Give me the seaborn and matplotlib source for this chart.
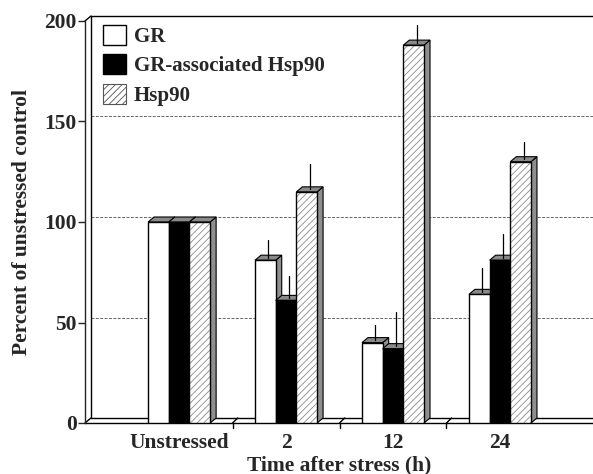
import numpy as np
import pandas as pd
import seaborn as sns
import matplotlib
matplotlib.use('Agg')
import matplotlib.pyplot as plt
from matplotlib.patches import Polygon, Rectangle, Patch

# values
times = ['Unstressed', '2', '12', '24']
series = ['GR', 'GR-associated Hsp90', 'Hsp90']
gr = [100, 81, 40, 64]
gr_hsp90 = [100, 61, 37, 81]
hsp90 = [100, 115, 188, 130]
gr_err = [0, 10, 9, 13]
gr_hsp90_err = [0, 12, 18, 13]
hsp90_err = [0, 14, 10, 10]

df = pd.DataFrame({
    'time': times * 3,
    'protein': np.repeat(series, len(times)),
    'value': gr + gr_hsp90 + hsp90,
})
errs = [gr_err, gr_hsp90_err, hsp90_err]
vals = [gr, gr_hsp90, hsp90]

sns.set_style('white')
plt.rcParams['font.family'] = ['Liberation Serif', 'DejaVu Serif']
plt.rcParams['font.weight'] = 'bold'
plt.rcParams['hatch.linewidth'] = 0.6

fig = plt.figure(figsize=(5.93, 4.74), dpi=100)
W, H = 593, 474
ax = fig.add_axes([85 / W, (H - 423) / H, 508 / W, 402 / H])

pal = {'GR': 'white', 'GR-associated Hsp90': 'black', 'Hsp90': 'white'}
sns.barplot(data=df, x='time', y='value', hue='protein', order=times,
            hue_order=series, palette=pal, width=0.58, errorbar=None,
            edgecolor='black', linewidth=1.0, legend=False, ax=ax)

ax.set_xlim(-0.88, 3.87)
ax.set_ylim(0, 200)

# depth of the fake 3D effect, in data units
inv = ax.transData.inverted()
x0, y0 = inv.transform((0, 0))
x1, y1 = inv.transform((6, 5))
ddx, ddy = x1 - x0, y1 - y0
xl0, xl1 = ax.get_xlim()

lk = dict(color='black', lw=1.0, clip_on=False)
# back wall, top edge and grid
ax.plot([xl0 + ddx, xl0 + ddx], [ddy, 200 + ddy], zorder=1, **lk)
ax.plot([xl0 + ddx, xl1], [200 + ddy, 200 + ddy], zorder=1, **lk)
ax.plot([xl0, xl0 + ddx], [200, 200 + ddy], zorder=1, **lk)
for g in [50, 100, 150]:
    ax.plot([xl0 + ddx, xl1], [g + ddy, g + ddy], color='#666666', lw=0.7,
            ls=(0, (3, 1.5)), zorder=0.5, clip_on=False)
# floor
ax.plot([xl0, xl1], [0, 0], zorder=1, **lk)
ax.plot([xl0 + ddx, xl1], [ddy, ddy], zorder=1, **lk)
ax.plot([xl0, xl0 + ddx], [0, ddy], zorder=1, **lk)
for b in [0.5, 1.5, 2.5]:
    ax.plot([b, b + ddx * 0.85], [0, ddy], zorder=1, **lk)
    ax.plot([b, b], [0, -ddy], zorder=1, **lk)

side_col = '#8f8f8f'
for i, cont in enumerate(ax.containers):
    for j, bar in enumerate(cont.patches):
        z = 3 + j * 1 + i * 0.1
        bx, bw, bh = bar.get_x(), bar.get_width(), bar.get_height()
        bar.set_zorder(z)
        if series[i] == 'Hsp90':
            bar.set_hatch('/////')
            bar.set_edgecolor('#8a8a8a')
            bar.set_linewidth(0)
            ax.add_patch(Rectangle((bx, 0), bw, bh, fill=False, ec='black',
                                   lw=1.0, zorder=z + 0.01))
        side = Polygon([(bx + bw, 0), (bx + bw + ddx, ddy), (bx + bw + ddx, bh + ddy),
                        (bx + bw, bh)], closed=True, fc=side_col, ec='black', lw=0.8,
                       zorder=z - 0.01)
        top = Polygon([(bx, bh), (bx + ddx, bh + ddy), (bx + bw + ddx, bh + ddy),
                       (bx + bw, bh)], closed=True, fc='#8a8a8a', ec='black', lw=0.8,
                      zorder=z - 0.01)
        ax.add_patch(side)
        ax.add_patch(top)
        e = errs[i][j]
        if e > 0:
            cx = bx + bw / 2 + ddx / 2
            ax.plot([cx, cx], [bh + ddy / 2, vals[i][j] + e], color='black',
                    lw=0.9, zorder=z + 0.02, clip_on=False)

for s in ['top', 'right', 'bottom']:
    ax.spines[s].set_visible(False)
ax.spines['left'].set_bounds(0, 200)
ax.spines['left'].set_linewidth(1.0)
ax.spines['left'].set_zorder(2)

ax.set_yticks([0, 50, 100, 150, 200])
ax.tick_params(axis='y', left=True, length=5, width=1, pad=1, labelsize=15.5)
ax.tick_params(axis='x', bottom=False, length=0, pad=7, labelsize=15.5)
for t in ax.get_xticklabels() + ax.get_yticklabels():
    t.set_fontweight('bold')

ax.set_ylabel('Percent of unstressed control', fontsize=15.5, fontweight='bold', labelpad=9)
ax.set_xlabel('Time after stress (h)', fontsize=15.5, fontweight='bold', labelpad=2)

handles = [Patch(fc='white', ec='black', lw=1.0),
           Patch(fc='black', ec='black', lw=1.0),
           Patch(fc='white', ec='#555555', lw=0.8, hatch='/////')]
ax.legend(handles, series, loc='upper left', bbox_to_anchor=(0.035, 0.99),
          frameon=False, handlelength=1.1, handleheight=1.1,
          handletextpad=0.4, labelspacing=0.35, borderpad=0, borderaxespad=0,
          prop={'weight': 'bold', 'size': 15})

fig.savefig('out.png', dpi=100)
